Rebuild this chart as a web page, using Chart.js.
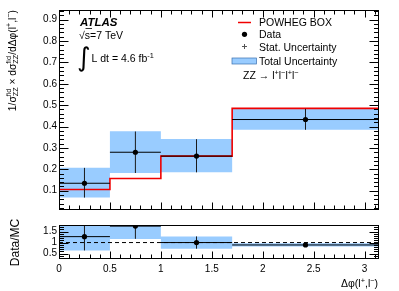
<!DOCTYPE html>
<html>
<head>
<meta charset="utf-8">
<script src="https://cdn.jsdelivr.net/npm/chart.js@4.4.1/dist/chart.umd.min.js"></script>
<style>
  html, body { margin: 0; padding: 0; background: #fff; }
  #wrap { position: relative; width: 399px; height: 291px; overflow: hidden; }
  #wrap canvas { position: absolute; left: 0; }
  #main { top: 0; }
  #ratio { top: 217px; }
</style>
</head>
<body>
<div id="wrap">
  <canvas id="main" width="399" height="218"></canvas>
  <canvas id="ratio" width="399" height="74"></canvas>
</div>
<script>
// ---- data ----
const binEdges   = [0, 0.5, 1.0, 1.7, 3.1416];
const binCenters = [0.25, 0.75, 1.35, 2.42];

const dataVals = [0.135, 0.280, 0.262, 0.433];
const statLow  = [0.068, 0.183, 0.186, 0.385];
const statHigh = [0.207, 0.377, 0.341, 0.483];
const totLow   = [0.068, 0.183, 0.186, 0.385];
const totHigh  = [0.208, 0.378, 0.342, 0.484];
const powheg   = [0.106, 0.157, 0.262, 0.485];

const ratioVals = [1.27, 1.75, 1.00, 0.89];
const ratioStatLow  = [0.64, 1.17, 0.72, 0.82];
const ratioStatHigh = [1.90, 2.33, 1.28, 0.97];
const ratioTotLow   = [0.64, 1.16, 0.72, 0.82];
const ratioTotHigh  = [1.90, 2.34, 1.28, 0.97];

const mainYTicks  = [0.1, 0.2, 0.3, 0.4, 0.5, 0.6, 0.7, 0.8, 0.9];
const mainYLabels = ['0.1', '0.2', '0.3', '0.4', '0.5', '0.6', '0.7', '0.8', '0.9'];
const ratioYTicks  = [0.5, 1, 1.5];
const ratioYLabels = ['0.5', '1', '1.5'];
const xTicks      = [0, 0.5, 1, 1.5, 2, 2.5, 3];
const xTickLabels = ['0', '0.5', '1', '1.5', '2', '2.5', '3'];

const BAND = 'rgb(153, 204, 255)';
const RED = '#f00000';
const FONT = "'Liberation Sans', Arial, sans-serif";

// ---- helpers building datasets from the arrays ----
const stepPoints = vals => binEdges.map((x, i) => ({ x, y: vals[Math.min(i, vals.length - 1)] }));

const hBars = vals => vals.flatMap((v, i) => [
  { x: binEdges[i], y: v }, { x: binEdges[i + 1], y: v }, { x: binEdges[i + 1], y: null },
]);
const vBars = (lo, hi) => binCenters.flatMap((c, i) => [
  { x: c, y: lo[i] }, { x: c, y: hi[i] }, { x: c, y: null },
]);
const markers = vals => binCenters.map((c, i) => ({ x: c, y: vals[i] }));

const lineDs = (data, extra) => Object.assign({
  data, borderColor: '#000', borderWidth: 1, pointRadius: 0, fill: false, spanGaps: false,
}, extra);

function histDatasets(lo, hi, stLo, stHi, vals, extra) {
  return [
    lineDs(stepPoints(hi), { stepped: true, borderWidth: 0, borderColor: 'rgba(0,0,0,0)', order: 9 }),
    lineDs(stepPoints(lo), { stepped: true, borderWidth: 0, borderColor: 'rgba(0,0,0,0)',
                             fill: '-1', backgroundColor: BAND, order: 8 }),
    ...extra,
    lineDs(hBars(vals), { order: 2 }),
    lineDs(vBars(stLo, stHi), { order: 2, borderColor: '#1a1a1a' }),
    lineDs(markers(vals), { showLine: false, pointRadius: 2.6, pointBackgroundColor: '#000',
                            pointBorderWidth: 0, order: 0 }),
  ];
}

// ---- rich text (sub/superscripts) ----
function richWidth(ctx, parts, size) {
  let w = 0;
  for (const p of parts) {
    if (p.s) {
      ctx.font = `${size * 0.7}px ${FONT}`;
      w += Math.max(ctx.measureText(p.s[0]).width, ctx.measureText(p.s[1] || '').width);
    } else if (p.u) {
      ctx.font = `${size * 0.7}px ${FONT}`;
      w += ctx.measureText(p.u).width;
    } else {
      ctx.font = `${size}px ${FONT}`;
      w += ctx.measureText(p.t).width;
    }
  }
  return w;
}
function drawRich(ctx, parts, x, y, size) {
  ctx.textBaseline = 'alphabetic';
  ctx.textAlign = 'left';
  for (const p of parts) {
    if (p.s) {
      ctx.font = `${size * 0.7}px ${FONT}`;
      ctx.fillText(p.s[0], x, y - size * 0.42);
      ctx.fillText(p.s[1], x, y + size * 0.28);
      x += Math.max(ctx.measureText(p.s[0]).width, ctx.measureText(p.s[1]).width);
    } else if (p.u) {
      ctx.font = `${size * 0.7}px ${FONT}`;
      ctx.fillText(p.u, x, y - size * 0.42);
      x += ctx.measureText(p.u).width;
    } else {
      ctx.font = `${size}px ${FONT}`;
      ctx.fillText(p.t, x, y);
      x += ctx.measureText(p.t).width;
    }
  }
  return x;
}

// ---- frame + ROOT style inward ticks ----
function framePlugin(cfg) {
  return {
    id: 'frame',
    afterDraw(chart) {
      const { ctx, chartArea: a, scales } = chart;
      const xs = scales.x, ys = scales.y;
      ctx.save();
      ctx.strokeStyle = '#000';
      ctx.lineWidth = 1;
      const L = Math.round(a.left) + 0.5, R = Math.round(a.right) - 0.5;
      const T = Math.round(a.top) + 0.5, B = Math.round(a.bottom) - 0.5;
      ctx.strokeRect(L, T, R - L, B - T);
      ctx.beginPath();
      // y ticks, left and right
      const n = Math.round((ys.max - ys.min) / cfg.yMinor) + 2;
      const start = Math.ceil(ys.min / cfg.yMinor - 1e-6);
      for (let k = start; k < start + n; k++) {
        const v = k * cfg.yMinor;
        if (v < ys.min - 1e-9 || v > ys.max + 1e-9) continue;
        const major = Math.abs(v / cfg.yMajor - Math.round(v / cfg.yMajor)) < 1e-6;
        const len = major ? cfg.yMajLen : cfg.yMinLen;
        const py = Math.round(ys.getPixelForValue(v)) + 0.5;
        ctx.moveTo(L, py); ctx.lineTo(L + len, py);
        ctx.moveTo(R, py); ctx.lineTo(R - len, py);
      }
      // x ticks
      for (let k = 0; k * 0.1 <= xs.max + 1e-9; k++) {
        const v = k * 0.1;
        const major = k % 5 === 0;
        const px = Math.round(xs.getPixelForValue(v)) + 0.5;
        const len = major ? cfg.xMajLen : cfg.xMinLen;
        if (cfg.xBottom) { ctx.moveTo(px, B); ctx.lineTo(px, B - len); }
        if (cfg.xTop) { ctx.moveTo(px, T); ctx.lineTo(px, T + len); }
      }
      ctx.stroke();
      ctx.restore();
      if (cfg.text) cfg.text(ctx, chart);
    },
  };
}

function fixedTicks(list) {
  return scale => { scale.ticks = list.map(value => ({ value })); };
}
const labelFrom = (values, labels) => v => {
  const i = values.findIndex(t => Math.abs(t - v) < 1e-9);
  return i < 0 ? '' : labels[i];
};

// ---- main panel annotations ----
function mainText(ctx) {
  ctx.save();
  ctx.fillStyle = '#000';
  // ATLAS label
  ctx.font = `italic bold 11.5px ${FONT}`;
  ctx.textBaseline = 'alphabetic';
  ctx.fillText('ATLAS', 80, 26);
  ctx.font = `10.5px ${FONT}`;
  ctx.fillText('\u221As=7 TeV', 79, 38.5);
  ctx.beginPath();
  ctx.lineWidth = 0.8;
  ctx.moveTo(85.5, 28.5); ctx.lineTo(92, 28.5);
  ctx.stroke();
  // integral
  ctx.font = `26px 'DejaVu Sans', ${FONT}`;
  ctx.fillText('\u222B', 77, 66);
  drawRich(ctx, [{ t: 'L dt = 4.6 fb' }, { u: '-1' }], 91.5, 62, 10.5);

  // legend
  ctx.strokeStyle = RED;
  ctx.lineWidth = 1.5;
  ctx.beginPath(); ctx.moveTo(238, 22.5); ctx.lineTo(251, 22.5); ctx.stroke();
  ctx.beginPath(); ctx.arc(244.5, 34.3, 2.6, 0, Math.PI * 2); ctx.fill();
  ctx.strokeStyle = '#555';
  ctx.lineWidth = 1;
  ctx.beginPath();
  ctx.moveTo(242, 46.5); ctx.lineTo(247, 46.5);
  ctx.moveTo(244.5, 44); ctx.lineTo(244.5, 49);
  ctx.stroke();
  ctx.fillStyle = BAND;
  ctx.fillRect(232, 58, 24.5, 6);
  ctx.strokeStyle = '#3a6fb0';
  ctx.lineWidth = 0.7;
  ctx.strokeRect(232, 58, 24.5, 6);
  ctx.fillStyle = '#000';
  ctx.font = `10.5px ${FONT}`;
  ctx.fillText('POWHEG BOX', 259, 26.3);
  ctx.fillText('Data', 259, 38.3);
  ctx.fillText('Stat. Uncertainty', 259, 50.5);
  ctx.fillText('Total Uncertainty', 259, 64.5);
  drawRich(ctx, [{ t: 'ZZ \u2192 l' }, { u: '+' }, { t: 'l' }, { u: '\u2212' }, { t: 'l' }, { u: '+' }, { t: 'l' }, { u: '\u2212' }], 243, 79, 10.5);

  // y title, rotated, right-aligned to top
  const parts = [
    { t: '1/\u03C3' }, { s: ['fid', 'ZZ'] }, { t: ' \u00D7 d\u03C3' }, { s: ['fid', 'ZZ'] },
    { t: '/d\u0394\u03C6(l' }, { u: '+' }, { t: ',l' }, { u: '\u2212' }, { t: ')' },
  ];
  const w = richWidth(ctx, parts, 10.3);
  ctx.translate(15.5, 10 + w);
  ctx.rotate(-Math.PI / 2);
  drawRich(ctx, parts, 0, 0, 10.3);
  ctx.restore();
}

function ratioText(ctx) {
  ctx.save();
  ctx.fillStyle = '#000';
  ctx.translate(18.5, 25.5);
  ctx.rotate(-Math.PI / 2);
  ctx.font = `12px ${FONT}`;
  ctx.textAlign = 'center';
  ctx.textBaseline = 'alphabetic';
  ctx.fillText('Data/MC', 0, 0);
  ctx.restore();
  ctx.save();
  ctx.fillStyle = '#000';
  const parts = [{ t: '\u0394\u03C6(l' }, { u: '+' }, { t: ',l' }, { u: '\u2212' }, { t: ')' }];
  const w = richWidth(ctx, parts, 10.5);
  drawRich(ctx, parts, 378 - w, 70, 10.5);
  ctx.restore();
}

const tickFont = { family: FONT, size: 10 };
const noGrid = { display: false, drawTicks: false };
const common = {
  type: 'line',
  options: {
    responsive: false,
    devicePixelRatio: 1,
    animation: false,
    events: [],
    plugins: { legend: { display: false }, tooltip: { enabled: false } },
  },
};

// ---- main panel ----
new Chart(document.getElementById('main'), {
  ...common,
  data: {
    datasets: histDatasets(totLow, totHigh, statLow, statHigh, dataVals, [
      lineDs(stepPoints(powheg), { stepped: true, borderColor: RED, borderWidth: 1.6, order: 5 }),
    ]),
  },
  options: {
    ...common.options,
    layout: { padding: { left: 0, right: 20, top: 10, bottom: 1 } },
    scales: {
      x: { type: 'linear', min: 0, max: 3.1416, display: false },
      y: {
        type: 'linear', min: 0.01, max: 0.945,
        afterBuildTicks: fixedTicks(mainYTicks),
        afterFit: s => { s.width = 59; },
        grid: noGrid, border: { display: false },
        ticks: { font: tickFont, color: '#000', padding: 2, callback: labelFrom(mainYTicks, mainYLabels) },
      },
    },
  },
  plugins: [framePlugin({
    yMinor: 0.02, yMajor: 0.1, yMajLen: 9, yMinLen: 4.5,
    xMajLen: 7, xMinLen: 4, xTop: true, xBottom: true, text: mainText,
  })],
});

// ---- ratio panel ----
new Chart(document.getElementById('ratio'), {
  ...common,
  data: {
    datasets: histDatasets(ratioTotLow, ratioTotHigh, ratioStatLow, ratioStatHigh, ratioVals, [
      lineDs([{ x: 0, y: 1 }, { x: 3.1416, y: 1 }], { borderDash: [4, 3], order: 3 }),
    ]),
  },
  options: {
    ...common.options,
    layout: { padding: { left: 0, right: 20, top: 1, bottom: 0 } },
    scales: {
      x: {
        type: 'linear', min: 0, max: 3.1416,
        afterBuildTicks: fixedTicks(xTicks),
        afterFit: s => { s.height = 32; },
        grid: noGrid, border: { display: false },
        ticks: { font: tickFont, color: '#000', padding: 4, maxRotation: 0, autoSkip: false,
                 callback: labelFrom(xTicks, xTickLabels) },
      },
      y: {
        type: 'linear', min: 0.25, max: 1.8,
        afterBuildTicks: fixedTicks(ratioYTicks),
        afterFit: s => { s.width = 59; },
        grid: noGrid, border: { display: false },
        ticks: { font: tickFont, color: '#000', padding: 2, callback: labelFrom(ratioYTicks, ratioYLabels) },
      },
    },
  },
  plugins: [framePlugin({
    yMinor: 0.1, yMajor: 0.5, yMajLen: 9, yMinLen: 4.5,
    xMajLen: 7, xMinLen: 4, xTop: false, xBottom: true, text: ratioText,
  })],
});
</script>
</body>
</html>
